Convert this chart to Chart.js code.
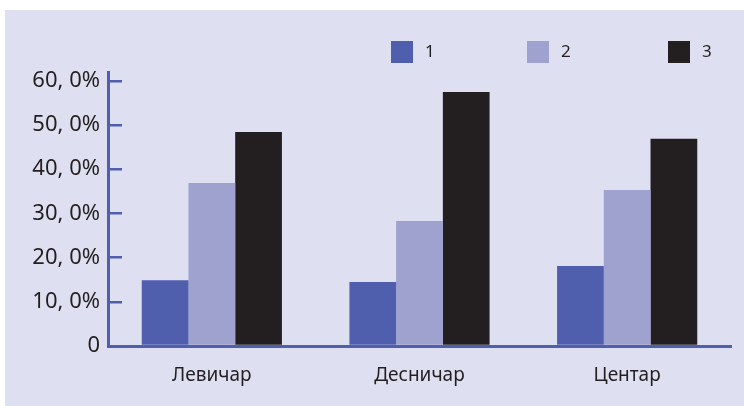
<!DOCTYPE html>
<html>
<head>
<meta charset="utf-8">
<script src="https://cdn.jsdelivr.net/npm/chart.js@4"></script>
<style>
  html, body { margin: 0; padding: 0; background: #ffffff; }
  #panel { position: absolute; left: 5px; top: 10px; width: 739px; height: 396px; background: #dedff0; }
  #panel canvas { display: block; }
</style>
</head>
<body>
<div id="panel"><canvas id="barChart" width="739" height="396"></canvas></div>
<script>
// Categories and series (percent values)
const categories = ['Левичар', 'Десничар', 'Центар'];
const seriesNames = ['1', '2', '3'];
const series1 = [14.9, 14.5, 18.1];
const series2 = [36.9, 28.3, 35.3];
const series3 = [48.4, 57.5, 46.9];
const yTicks = [0, 10, 20, 30, 40, 50, 60];
const yTickLabels = ['0', '10, 0%', '20, 0%', '30, 0%', '40, 0%', '50, 0%', '60, 0%'];

const colors = ['#4f5fae', '#9fa1cf', '#231f20'];
const axisBlue = '#4f5fae';
const textColor = '#231f20';

// simple legend: square + number, placed top right
const squareLegend = {
  id: 'squareLegend',
  afterDraw(chart) {
    const ctx = chart.ctx;
    const xs = [386, 522, 663];
    ctx.save();
    ctx.font = '17px "Noto Sans"';
    ctx.textBaseline = 'middle';
    ctx.textAlign = 'left';
    chart.data.datasets.forEach((ds, i) => {
      ctx.fillStyle = ds.backgroundColor;
      ctx.fillRect(xs[i], 31, 22, 22);
      ctx.fillStyle = textColor;
      ctx.fillText(ds.label, xs[i] + 34, 42);
    });
    ctx.restore();
  }
};

const data = {
  labels: categories,
  datasets: [
    { label: seriesNames[0], data: series1, backgroundColor: colors[0] },
    { label: seriesNames[1], data: series2, backgroundColor: colors[1] },
    { label: seriesNames[2], data: series3, backgroundColor: colors[2] }
  ]
};

const config = {
  type: 'bar',
  data: data,
  options: {
    responsive: false,
    animation: false,
    layout: { padding: { top: 62, right: 13, left: 0, bottom: 0 } },
    datasets: {
      bar: { categoryPercentage: 0.675, barPercentage: 1.0, borderWidth: 0 }
    },
    plugins: {
      legend: { display: false },
      tooltip: { enabled: false }
    },
    scales: {
      x: {
        grid: { display: false },
        border: { display: true, color: axisBlue, width: 3 },
        ticks: { color: textColor, font: { family: 'Noto Sans', size: 19 }, padding: 10 },
        afterFit: (s) => { s.height = 60; }
      },
      y: {
        min: 0,
        max: 62,
        afterBuildTicks: (s) => { s.ticks = yTicks.map(v => ({ value: v })); },
        grid: {
          display: true,
          drawOnChartArea: false,
          drawTicks: true,
          tickLength: -14,
          color: axisBlue,
          lineWidth: 2.5
        },
        border: { display: true, color: axisBlue, width: 3 },
        ticks: {
          color: textColor,
          font: { family: 'Noto Sans', size: 22 },
          padding: 22,
          callback: (v) => yTickLabels[yTicks.indexOf(v)]
        },
        afterFit: (s) => { s.width = 103; }
      }
    }
  },
  plugins: [squareLegend]
};

const ctx = document.getElementById('barChart').getContext('2d');
new Chart(ctx, config);
</script>
</body>
</html>
